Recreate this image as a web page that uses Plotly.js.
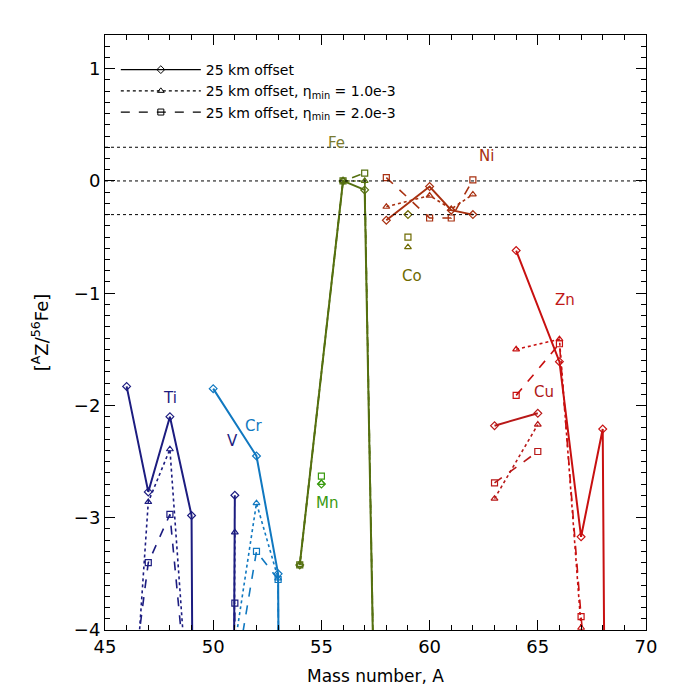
<!DOCTYPE html>
<html>
<head>
<meta charset="utf-8">
<script src="https://cdn.plot.ly/plotly-3.0.1.min.js"></script>
<style>
  body { margin: 0; background: #fff; }
  #chart { width: 700px; height: 700px; }
</style>
</head>
<body>
<div id="chart"></div>
<script>
// isotope mass numbers and [AZ/56Fe] for each element
// base = 25 km offset, eta1 = eta_min 1.0e-3, eta2 = eta_min 2.0e-3
// values far below -4 are just off the bottom of the plot
var A_Ti = [46, 47, 48, 49, 50];
var Ti_base = [-1.83, -2.77, -2.10, -2.98, -40];
var Ti_eta1 = [-5.7, -2.86, -2.39, -5.1, -40];
var Ti_eta2 = [-4.9, -3.40, -2.97, -5.0, -40];

var A_V = [50, 51];
var V_base = [-40, -2.80];
var V_eta1 = [-40, -3.13];
var V_eta2 = [-40, -3.76];

var A_Cr = [50, 52, 53, 54];
var Cr_base = [-1.85, -2.45, -3.50, -40];
var Cr_eta1 = [-5.4, -2.87, -3.54, -40];
var Cr_eta2 = [-5.6, -3.30, -3.55, -40];

var A_Mn = [55];
var Mn_base = [-2.70];
var Mn_eta1 = [-2.69];
var Mn_eta2 = [-2.63];

var A_Fe = [54, 56, 57, 58];
var Fe_base = [-3.42, 0.0, -0.08, -10.6];
var Fe_eta1 = [-3.42, 0.0, 0.0, -10.6];
var Fe_eta2 = [-3.42, 0.0, 0.07, -10.6];

var A_Co = [59];
var Co_base = [-0.30];
var Co_eta1 = [-0.59];
var Co_eta2 = [-0.50];

var A_Ni = [58, 60, 61, 62];
var Ni_base = [-0.35, -0.05, -0.26, -0.30];
var Ni_eta1 = [-0.23, -0.13, -0.25, -0.12];
var Ni_eta2 = [0.03, -0.33, -0.33, 0.01];

var A_Cu = [63, 65];
var Cu_base = [-2.18, -2.07];
var Cu_eta1 = [-2.83, -2.17];
var Cu_eta2 = [-2.69, -2.41];

var A_Zn = [64, 66, 67, 68, 70];
var Zn_base = [-0.62, -1.61, -3.17, -2.21, -60];
var Zn_eta1 = [-1.50, -1.41, -3.98, -6, -60];
var Zn_eta2 = [-1.91, -1.45, -3.88, -6, -60];

// element labels
var labelNames = ["Ti", "V", "Cr", "Mn", "Fe", "Co", "Ni", "Zn", "Cu"];
var labelA = [48.0, 50.9, 51.85, 55.25, 55.7, 59.2, 62.65, 66.25, 65.3];
var labelY = [-1.93, -2.32, -2.18, -2.87, 0.34, -0.85, 0.22, -1.06, -1.88];
var labelColors = ["#1c1c80", "#1c1c80", "#1078c0", "#3a9a10", "#7a7a30", "#6e6a00", "#a83010", "#c01818", "#b01818"];

var legendNames = [
  "25 km offset",
  "25 km offset, η<sub>min</sub> = 1.0e-3",
  "25 km offset, η<sub>min</sub> = 2.0e-3"
];

var styles = [
  {dash: "solid", symbol: "diamond-open"},
  {dash: "dot", symbol: "triangle-up-open"},
  {dash: "dash", symbol: "square-open"}
];

var elements = [
  {A: A_Ti, s: [Ti_base, Ti_eta1, Ti_eta2], color: "#1c1c80"},
  {A: A_V, s: [V_base, V_eta1, V_eta2], color: "#1c1c80"},
  {A: A_Cr, s: [Cr_base, Cr_eta1, Cr_eta2], color: "#1078c0"},
  {A: A_Mn, s: [Mn_base, Mn_eta1, Mn_eta2], color: "#3a9a10"},
  {A: A_Fe, s: [Fe_base, Fe_eta1, Fe_eta2], color: "#557010"},
  {A: A_Co, s: [Co_base, Co_eta1, Co_eta2], color: "#6e6a00"},
  {A: A_Ni, s: [Ni_base, Ni_eta1, Ni_eta2], color: "#a83010"},
  {A: A_Cu, s: [Cu_base, Cu_eta1, Cu_eta2], color: "#b81818"},
  {A: A_Zn, s: [Zn_base, Zn_eta1, Zn_eta2], color: "#c81010"}
];

var data = [];
elements.forEach(function(el) {
  el.s.forEach(function(vals, i) {
    data.push({
      x: el.A,
      y: vals,
      type: "scatter",
      mode: "lines+markers",
      showlegend: false,
      hoverinfo: "skip",
      line: {color: el.color, width: i == 0 ? 2 : 1.6, dash: styles[i].dash},
      marker: {symbol: styles[i].symbol, size: 6, color: el.color, line: {width: 1.2}}
    });
  });
});

// black entries for the legend only
legendNames.forEach(function(name, i) {
  data.push({
    x: [null],
    y: [null],
    type: "scatter",
    mode: "lines+markers",
    name: name,
    line: {color: "black", width: 1.2, dash: styles[i].dash},
    marker: {symbol: styles[i].symbol, size: 6, color: "black"}
  });
});

var annotations = labelNames.map(function(n, i) {
  return {
    x: labelA[i], y: labelY[i], text: n, showarrow: false,
    font: {size: 15, color: labelColors[i]}
  };
});

var hlines = [0.3, 0, -0.3].map(function(v) {
  return {
    type: "line", xref: "paper", x0: 0, x1: 1, y0: v, y1: v,
    line: {color: "black", width: 1, dash: "dot"}
  };
});

var layout = {
  width: 700,
  height: 700,
  margin: {l: 105, r: 54, t: 35, b: 70},
  paper_bgcolor: "white",
  plot_bgcolor: "white",
  font: {family: "DejaVu Sans, Arial, sans-serif", color: "black"},
  showlegend: true,
  legend: {
    x: 0.02, y: 0.968, xanchor: "left", yanchor: "top",
    bgcolor: "rgba(0,0,0,0)", font: {size: 14}, tracegroupgap: 2,
    itemwidth: 80
  },
  xaxis: {
    range: [45, 70],
    dtick: 5,
    showgrid: false, zeroline: false,
    showline: true, linecolor: "black", linewidth: 1, mirror: "allticks",
    ticks: "inside", ticklen: 10, tickcolor: "black",
    minor: {dtick: 1, ticks: "inside", ticklen: 5, tickcolor: "black"},
    tickfont: {size: 18},
    title: {text: "Mass number, A", font: {size: 17}, standoff: 14}
  },
  yaxis: {
    range: [-4, 1.3],
    dtick: 1,
    showgrid: false, zeroline: false,
    showline: true, linecolor: "black", linewidth: 1, mirror: "allticks",
    ticks: "inside", ticklen: 10, tickcolor: "black",
    minor: {dtick: 0.1, ticks: "inside", ticklen: 5, tickcolor: "black"},
    tickfont: {size: 18},
    title: {text: "[<sup>A</sup>Z/<sup>56</sup>Fe]", font: {size: 18}, standoff: 20}
  },
  shapes: hlines,
  annotations: annotations
};

Plotly.newPlot("chart", data, layout, {displayModeBar: false, staticPlot: true});
</script>
</body>
</html>
